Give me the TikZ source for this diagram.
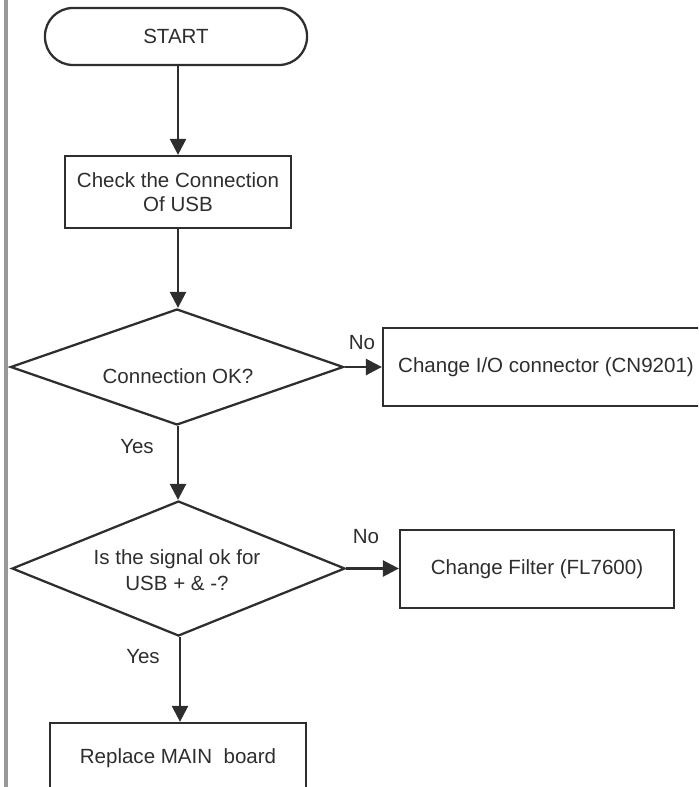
\documentclass[tikz,border=0pt]{standalone}
\usepackage{fontspec}
\setmainfont{Liberation Sans}
\usetikzlibrary{shapes.geometric,arrows.meta}
\definecolor{ink}{HTML}{2E2E2E}
\definecolor{barc}{HTML}{999999}
\begin{document}
\begin{tikzpicture}[x=0.75pt,y=-0.75pt,
  every node/.style={text=ink,font=\fontsize{15.4}{18}\selectfont},
  boxnode/.style={draw=ink,line width=1.7pt,rectangle,inner sep=0pt,align=center},
  termnode/.style={draw=ink,line width=1.7pt,rectangle,rounded corners=21pt,inner sep=0pt,minimum width=196.5pt,minimum height=42.75pt},
  decnode/.style={draw=ink,line width=1.7pt,diamond,inner sep=0pt,minimum width=249.75pt},
  txt/.style={inner sep=0pt,align=center},
  flow/.style={draw=ink,line width=1.9pt,-{Triangle[length=12pt,width=12pt]}}]
\useasboundingbox (0,0) rectangle (698,787);
\clip (0,0) rectangle (698,787);
\fill[barc] (4,0) rectangle (7.5,787);
\node[termnode] (start) at (176,36.5) {START};
\node[boxnode,minimum width=169.5pt,minimum height=54pt] (b1) at (178,192) {Check the Connection\\Of USB};
\node[decnode,minimum height=87pt] (d1) at (177,367) {};
\node[txt] (t1) at (178,376) {Connection OK?};
\node[boxnode,minimum width=244.5pt,minimum height=58.5pt] (b2) at (546,367) {Change I/O connector (CN9201)};
\node[decnode,minimum height=101.25pt] (d2) at (178.5,568.5) {};
\node[txt] (t2) at (177,570) {Is the signal ok for\\[1.5pt]USB + \& -?};
\node[boxnode,minimum width=205.5pt,minimum height=58.5pt] (b3) at (537,569) {Change Filter (FL7600)};
\node[boxnode,minimum width=192pt,minimum height=52.5pt] (b4) at (178,758) {Replace MAIN\ \ board};
\node[txt] (n1) at (362,343) {No};
\node[txt] (y1) at (137,447) {Yes};
\node[txt] (n2) at (366,537) {No};
\node[txt] (y2) at (143,657) {Yes};
\draw[flow] (start.south -| 178,0) -- (b1.north -| 178,0);
\draw[flow] (b1.south -| 178,0) -- (d1.north -| 178,0);
\draw[flow] (d1.south -| 178,0) -- (d2.north -| 178,0);
\draw[flow] (d2.south -| 180,0) -- (b4.north -| 180,0);
\draw[flow] (d1.east) -- (b2.west |- d1.east);
\draw[flow] (d2.east) -- (b3.west |- d2.east);
\end{tikzpicture}
\end{document}
